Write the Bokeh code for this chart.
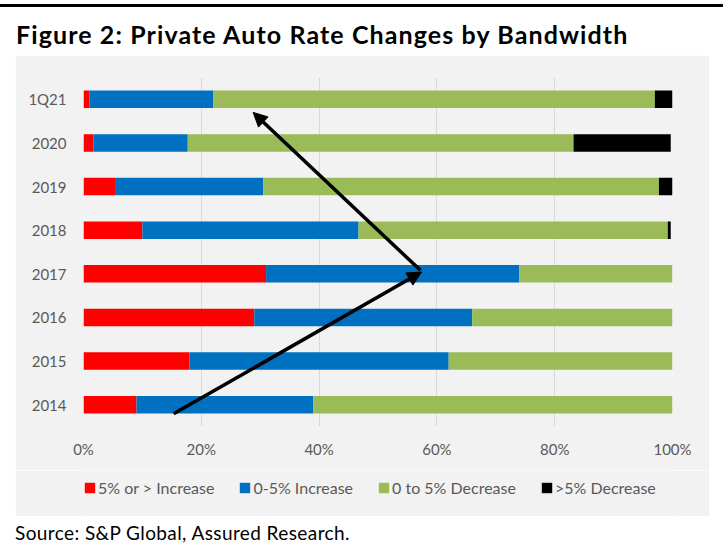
from bokeh.plotting import figure
from bokeh.models import (ColumnDataSource, FactorRange, FixedTicker, NumeralTickFormatter,
                          Legend, LegendItem, Arrow, NormalHead, Div, Range1d)
from bokeh.layouts import column
from bokeh.embed import file_html
from bokeh.resources import INLINE

# Periods, listed bottom to top as drawn
periods = ["2014", "2015", "2016", "2017", "2018", "2019", "2020", "1Q21"]

# Share of rate changes in each band (%)
increase_5_plus = [9.0, 18.0, 29.0, 31.0, 10.0, 5.5, 1.7, 1.0]
increase_0_5 = [30.0, 44.0, 37.0, 43.0, 36.7, 25.0, 16.0, 21.0]
decrease_0_5 = [61.0, 38.0, 34.0, 26.0, 52.5, 67.2, 65.5, 75.0]
decrease_5_plus = [0.0, 0.0, 0.0, 0.0, 0.5, 2.3, 16.5, 3.0]

series_labels = ["5% or > Increase", "0-5% Increase", "0 to 5% Decrease", ">5% Decrease"]
x_ticks = [0.0, 0.2, 0.4, 0.6, 0.8, 1.0]

# Trend arrows: (x_start, y_start, x_end, y_end), x as share, y in category units
arrows = [
    (0.153, 0.29, 0.574, 3.54),
    (0.572, 3.58, 0.288, 7.20),
]

colors = ["#ff0000", "#0070c0", "#9bbb59", "#000000"]
keys = ["inc5", "inc0", "dec0", "dec5"]
TEXT_FONT = "Lato"
GREY_TEXT = "#595959"
PANEL_BG = "#f2f2f2"

source = ColumnDataSource(dict(
    period=periods,
    inc5=[v / 100 for v in increase_5_plus],
    inc0=[v / 100 for v in increase_0_5],
    dec0=[v / 100 for v in decrease_0_5],
    dec5=[v / 100 for v in decrease_5_plus],
))

p = figure(
    width=694, height=415,
    y_range=FactorRange(factors=periods, range_padding=0),
    x_range=(0, 1),
    output_backend="svg", toolbar_location=None,
    min_border_left=68, min_border_right=37, min_border_top=22, min_border_bottom=44,
    background_fill_color=PANEL_BG, border_fill_color=PANEL_BG,
    outline_line_color=None,
)
p.margin = (0, 0, 0, 15)

bars = p.hbar_stack(keys, y="period", height=0.4, fill_color=colors, line_color=None,
                    source=source)

# Axes
p.xaxis.ticker = FixedTicker(ticks=x_ticks)
p.xaxis.formatter = NumeralTickFormatter(format="0%")
for ax in (p.xaxis[0], p.yaxis[0]):
    ax.axis_line_color = None
    ax.major_tick_line_color = None
    ax.minor_tick_line_color = None
    ax.major_tick_in = 0
    ax.major_tick_out = 0
    ax.minor_tick_in = 0
    ax.minor_tick_out = 0
    ax.major_label_text_font = TEXT_FONT
    ax.major_label_text_font_size = "15px"
    ax.major_label_text_color = GREY_TEXT
p.xaxis.major_label_standoff = 13
p.yaxis.major_label_standoff = 17

p.xgrid.ticker = FixedTicker(ticks=x_ticks)
p.xgrid.grid_line_color = "#d9d9d9"
p.xgrid.grid_line_width = 1
p.ygrid.grid_line_color = None

# Arrows over the bars
for xs, ys, xe, ye in arrows:
    p.add_layout(Arrow(
        x_start=xs, y_start=ys, x_end=xe, y_end=ye,
        line_color="black", line_width=3.5,
        end=NormalHead(size=14, fill_color="black", line_color="black", line_width=1),
    ))

# Legend strip below the chart; its single "key" factor matches no period,
# so the stacked renderers only supply the legend swatches
lg = figure(
    width=694, height=46, x_range=Range1d(0, 1),
    y_range=FactorRange(factors=["key"], range_padding=0),
    x_axis_type=None, y_axis_type=None,
    output_backend="svg", toolbar_location=None,
    min_border=0, background_fill_color=PANEL_BG, border_fill_color=PANEL_BG,
    outline_line_color=None,
)
lg.margin = (0, 0, 0, 15)
lg.xgrid.visible = False
lg.ygrid.visible = False
swatches = lg.hbar_stack(keys, y="period", height=0.4, fill_color=colors, line_color=None,
                         source=source)

legend = Legend(
    items=[LegendItem(label=lab, renderers=[r]) for lab, r in zip(series_labels, swatches)],
    location=(0, 19), orientation="horizontal",
    glyph_width=13, glyph_height=13, label_height=13, label_standoff=2, spacing=24,
    padding=0, margin=0,
    label_text_font=TEXT_FONT, label_text_font_size="16px", label_text_color=GREY_TEXT,
    background_fill_alpha=0, border_line_alpha=0,
)
lg.add_layout(legend)

header = Div(
    text=('<div style="padding-top:4px">'
          '<div style="height:3px;background:#000;width:723px"></div>'
          '<div style="margin:12px 0 0 16px;font-family:Lato;font-weight:700;font-size:25px;'
          'letter-spacing:1.1px;line-height:30px;color:#000;white-space:nowrap">'
          'Figure 2: Private Auto Rate Changes by Bandwidth</div></div>'),
    width=723, height=55, margin=0,
)
footer = Div(
    text=('<div style="padding:5px 0 0 15px;font-family:Lato;font-size:19px;line-height:23px;'
          'letter-spacing:0.4px;color:#000;white-space:nowrap">'
          'Source: S&amp;P Global, Assured Research.</div>'),
    width=723, height=38, margin=0,
)

layout = column(header, p, lg, footer, spacing=0)
open("out.html", "w").write(file_html(layout, INLINE))
